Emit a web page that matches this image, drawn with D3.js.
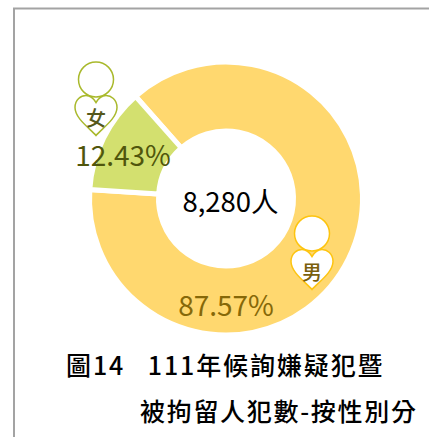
<!DOCTYPE html>
<html>
<head>
<meta charset="utf-8">
<script src="https://cdn.jsdelivr.net/npm/d3@7"></script>
<style>
  html, body { margin: 0; padding: 0; background: #fff; }
  svg { display: block; }
  text { font-family: "Noto Sans CJK TC", "Noto Sans", sans-serif; }
</style>
</head>
<body>
<div id="chart"></div>
<script>
'use strict';

const categories = ['男', '女'];
const shares = [87.57, 12.43];
const shareLabels = ['87.57%', '12.43%'];
const totalLabel = '8,280人';
const titleLines = ['圖14\u2002\u2005111年候詢嫌疑犯暨', '被拘留人犯數-按性別分'];

const width = 429, height = 437;
const cx = 226, cy = 198.5;
const outerRadius = 136.5, innerRadius = 67.5;
const startAngle = -41.5 * Math.PI / 180;

const sliceColors = ['#ffd86f', '#d3e06f'];
const labelColors = ['#866808', '#50560c'];
const iconColors = ['#fdc40f', '#a9b92c'];
const iconTextColors = ['#7a600c', '#55581c'];

// label and icon offsets from the donut centre
const labelOffset = [[0, 105], [-103, -45]];
const iconOffset = [[86, 35], [-130, -119]];

const svg = d3.select('#chart').append('svg')
  .attr('width', width)
  .attr('height', height);

// frame, only top and left show in the crop
svg.append('path')
  .attr('d', 'M14,' + height + 'V8.5H' + width)
  .attr('fill', 'none')
  .attr('stroke', '#a3a3a3')
  .attr('stroke-width', 2);

const pie = d3.pie()
  .sort(null)
  .startAngle(startAngle)
  .endAngle(startAngle + 2 * Math.PI);

const arc = d3.arc()
  .innerRadius(innerRadius)
  .outerRadius(outerRadius);

const donut = svg.append('g')
  .attr('transform', `translate(${cx},${cy})`);

donut.selectAll('path')
  .data(pie(shares))
  .enter()
  .append('path')
  .attr('d', arc)
  .attr('fill', (d, i) => sliceColors[i])
  .attr('stroke', '#fff')
  .attr('stroke-width', 5);

donut.selectAll('text.share')
  .data(shareLabels)
  .enter()
  .append('text')
  .attr('class', 'share')
  .attr('x', (d, i) => labelOffset[i][0])
  .attr('y', (d, i) => labelOffset[i][1])
  .attr('text-anchor', 'middle')
  .attr('dominant-baseline', 'central')
  .attr('font-size', 28)
  .attr('fill', (d, i) => labelColors[i])
  .text(d => d);

donut.append('text')
  .attr('x', 4.5)
  .attr('y', 1.5)
  .attr('text-anchor', 'middle')
  .attr('dominant-baseline', 'central')
  .attr('font-size', 27.5)
  .attr('fill', '#000')
  .text(totalLabel);

// person icon: round head above a heart shaped body
const heart = 'M0,20 C-6,13 -21,3 -21,-8 C-21,-16 -15,-20 -10,-20 C-6,-20 -3,-18 0,-13 C3,-18 6,-20 10,-20 C15,-20 21,-16 21,-8 C21,3 6,13 0,20 Z';

const icons = donut.selectAll('g.icon')
  .data(categories)
  .enter()
  .append('g')
  .attr('class', 'icon')
  .attr('transform', (d, i) => `translate(${iconOffset[i][0]},${iconOffset[i][1]})`);

icons.append('circle')
  .attr('r', 17.5)
  .attr('fill', '#fff')
  .attr('stroke', (d, i) => iconColors[i])
  .attr('stroke-width', 1.5);

icons.append('path')
  .attr('d', heart)
  .attr('transform', 'translate(0,36)')
  .attr('fill', '#fff')
  .attr('stroke', (d, i) => iconColors[i])
  .attr('stroke-width', 1.5);

icons.append('text')
  .attr('y', 38)
  .attr('text-anchor', 'middle')
  .attr('dominant-baseline', 'central')
  .attr('font-size', 20)
  .attr('font-weight', 500)
  .attr('fill', (d, i) => iconTextColors[i])
  .text(d => d);

// title
svg.selectAll('text.title')
  .data(titleLines)
  .enter()
  .append('text')
  .attr('class', 'title')
  .attr('x', (d, i) => i === 0 ? 66 : 140)
  .attr('y', (d, i) => i === 0 ? 375 : 421)
  .attr('font-size', 25)
  .attr('font-weight', 500)
  .attr('letter-spacing', (d, i) => i === 0 ? 1.9 : 1.7)
  .attr('fill', '#000')
  .text(d => d);
</script>
</body>
</html>
